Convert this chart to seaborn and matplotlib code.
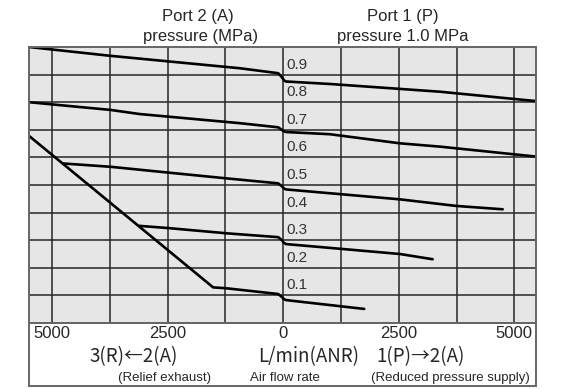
import numpy as np
import pandas as pd
import matplotlib
matplotlib.use("Agg")
import matplotlib.pyplot as plt
from matplotlib.patches import Rectangle
import seaborn as sns

# flow (L/min ANR, negative = relief 3(R)<-2(A)) vs port 2 pressure (MPa)
flow_09 = [-5500, -3736, -937, -108, -40, 20, 60, 1011, 3392, 5470]
pres_09 = [1.000, 0.968, 0.923, 0.905, 0.893, 0.879, 0.875, 0.866, 0.838, 0.804]

flow_07 = [-5500, -3736, -3100, -937, -108, -40, 20, 60, 1011, 2526, 3392, 5470]
pres_07 = [0.800, 0.772, 0.757, 0.724, 0.709, 0.701, 0.694, 0.692, 0.684, 0.651, 0.639, 0.603]

flow_05 = [-4762, -3736, -2489, -1225, -108, -40, 20, 60, 2526, 3753, 4749]
pres_05 = [0.578, 0.566, 0.545, 0.524, 0.506, 0.497, 0.487, 0.484, 0.448, 0.424, 0.412]

flow_03 = [-3117, -2489, -1225, -108, -40, 20, 60, 2526, 3234]
pres_03 = [0.352, 0.344, 0.325, 0.311, 0.302, 0.290, 0.286, 0.250, 0.231]

flow_01 = [-5500, -1515, -1240, -108, -40, 20, 60, 1753]
pres_01 = [0.678, 0.129, 0.126, 0.105, 0.096, 0.086, 0.083, 0.051]

curve_labels = ["0.9", "0.8", "0.7", "0.6", "0.5", "0.4", "0.3", "0.2", "0.1"]
curve_label_y = [0.9, 0.8, 0.7, 0.6, 0.5, 0.4, 0.3, 0.2, 0.1]
tick_pos = [-5000, -2500, 0, 2500, 5000]
tick_text = ["5000", "2500", "0", "2500", "5000"]

sns.set_style("white")
plt.rcParams["font.family"] = ["Liberation Sans", "DejaVu Sans"]

W, H = 563, 389
fig = plt.figure(figsize=(W / 100, H / 100), dpi=100)
ax = fig.add_axes([29 / W, 1 - 323 / H, (536 - 29) / W, (323 - 47) / H])
ax.set_facecolor("#e6e6e6")

curves = [(flow_09, pres_09), (flow_07, pres_07), (flow_05, pres_05),
          (flow_03, pres_03), (flow_01, pres_01)]
for fl, pr in curves:
    sns.lineplot(x=fl, y=pr, sort=False, estimator=None, color="black",
                 linewidth=1.9, ax=ax)

ax.set_xlim(-5500, 5470)
ax.set_ylim(0, 1.0)

ax.set_xticks(tick_pos)
ax.set_xticklabels(tick_text, fontsize=12)
ax.set_xticks(np.arange(-5000, 5001, 1250), minor=True)
ax.set_yticks(np.arange(0.1, 0.95, 0.1))
ax.set_yticklabels([])
ax.tick_params(axis="both", which="both", length=0)
ax.tick_params(axis="x", pad=2)
ax.grid(True, which="both", axis="x", color="#262626", linewidth=1.1)
ax.grid(True, which="major", axis="y", color="#262626", linewidth=1.1)
ax.set_axisbelow(True)
for s in ax.spines.values():
    s.set_color("#666666")
    s.set_linewidth(1.4)

for lab, yv in zip(curve_labels, curve_label_y):
    ax.text(60, yv + 0.022, lab, fontsize=11, ha="left", va="baseline",
            color="#333333")

# titles above the plot
fig.text(198 / W, 1 - 17 / H, "Port 2 (A)", ha="center", va="center", fontsize=12)
fig.text(201 / W, 1 - 36 / H, "pressure (MPa)", ha="center", va="center", fontsize=12)
fig.text(403 / W, 1 - 17 / H, "Port 1 (P)", ha="center", va="center", fontsize=12)
fig.text(403 / W, 1 - 36 / H, "pressure 1.0 MPa", ha="center", va="center", fontsize=12)

# box under the axes
fig.add_artist(Rectangle((29 / W, 1 - 386 / H), (536 - 29) / W, (386 - 323) / H,
                         transform=fig.transFigure, fill=False,
                         edgecolor="#666666", linewidth=1.4))

jp = ["Noto Sans CJK JP", "DejaVu Sans"]
fig.text(134 / W, 1 - 357 / H, "3(R)\u21902(A)", ha="center", va="center",
         fontsize=13.5, family=jp)
fig.text(309 / W, 1 - 357 / H, "L/min(ANR)", ha="center", va="center",
         fontsize=13.5, family=jp)
fig.text(421 / W, 1 - 357 / H, "1(P)\u21922(A)", ha="center", va="center",
         fontsize=13.5, family=jp)

fig.text(164 / W, 1 - 378 / H, "(Relief exhaust)", ha="center", va="center", fontsize=9.5)
fig.text(285 / W, 1 - 378 / H, "Air flow rate", ha="center", va="center", fontsize=9.5)
fig.text(450 / W, 1 - 378 / H, "(Reduced pressure supply)", ha="center", va="center", fontsize=9.5)

fig.savefig("out.png", dpi=100)
